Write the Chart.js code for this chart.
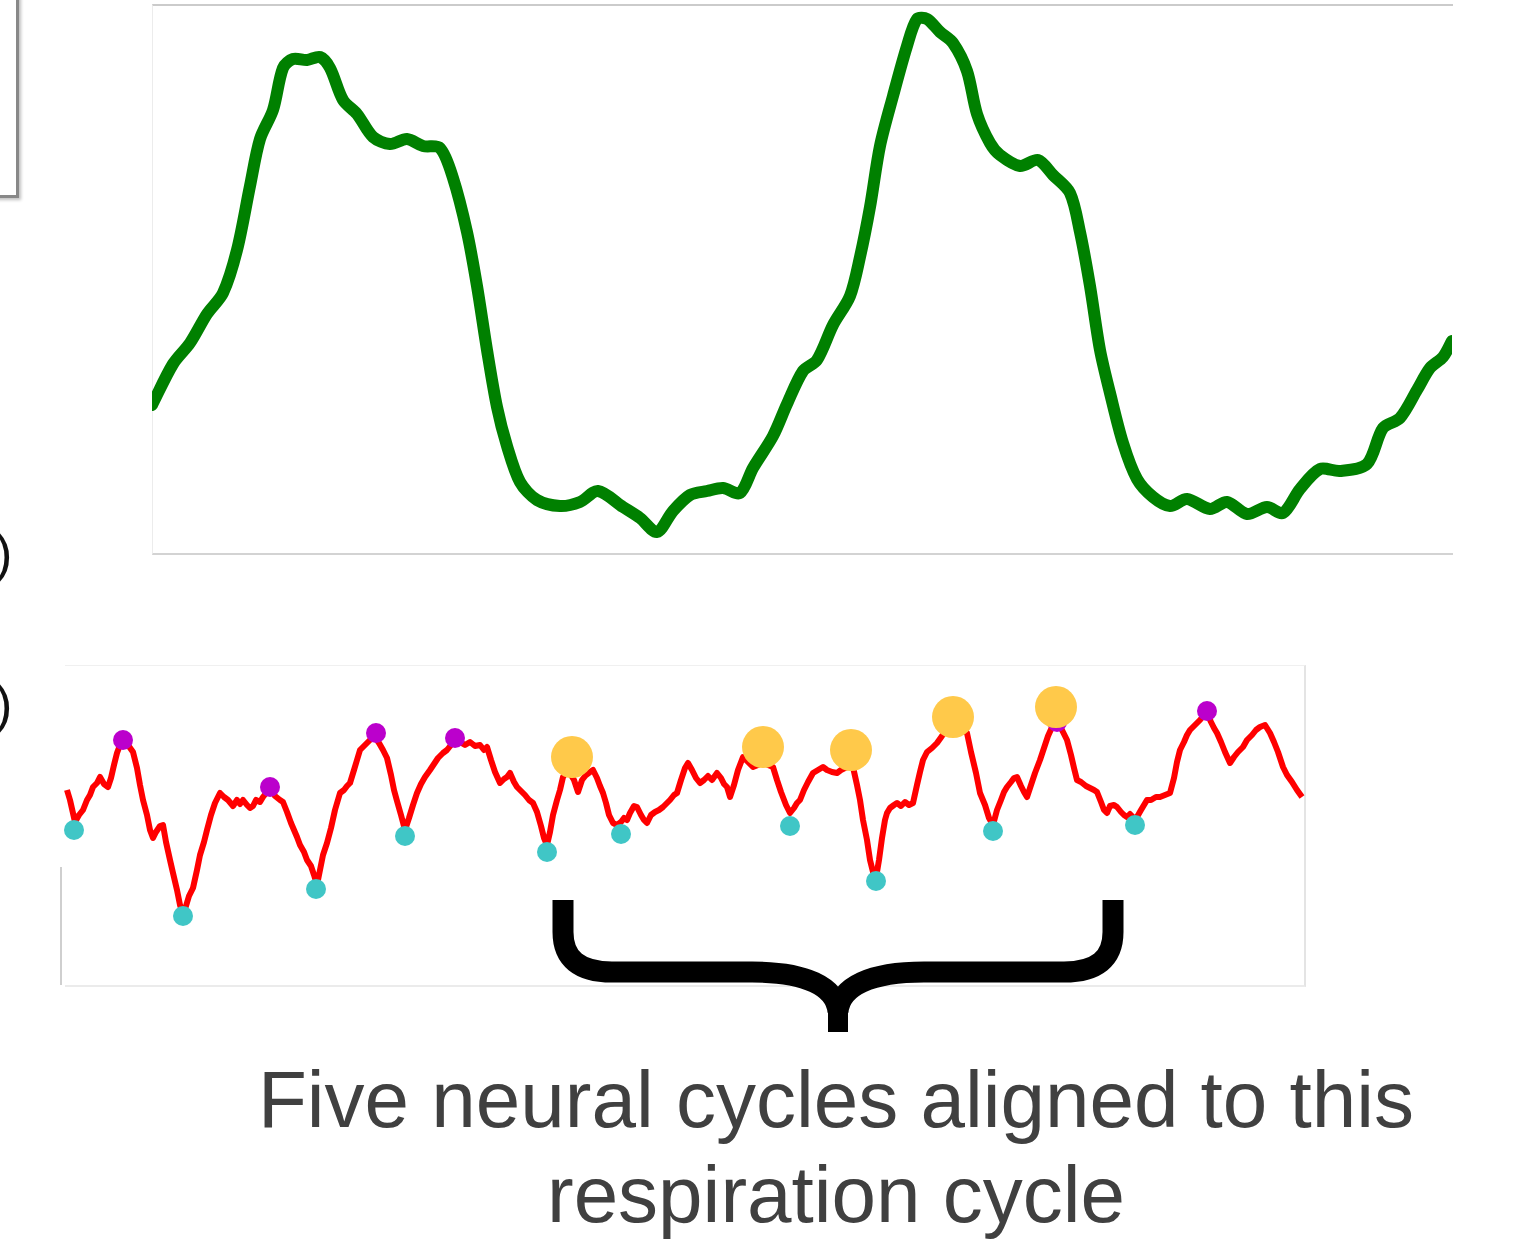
<!DOCTYPE html>
<html>
<head>
<meta charset="utf-8">
<script src="https://cdn.jsdelivr.net/npm/chart.js@4.4.1/dist/chart.umd.min.js"></script>
<style>
  html, body { margin: 0; padding: 0; background: #fff; }
  body { width: 1522px; height: 1251px; position: relative; overflow: hidden; font-family: "Liberation Sans", Arial, Helvetica, sans-serif; }
  .abs { position: absolute; }
  canvas { position: absolute; }
  .paren { position: absolute; font-size: 52px; line-height: 52px; color: #111; }
  .caption { position: absolute; left: 136px; width: 1400px; text-align: center; white-space: nowrap; font-size: 80px; line-height: 95px; color: #404040; }
</style>
</head>
<body>

<!-- bits of neighbouring panels cut off by the crop -->
<div class="abs" style="left:-20px; top:-20px; width:33px; height:212px; border:3px solid #888; box-shadow:2px 2px 3px rgba(0,0,0,0.25);"></div>
<div class="paren" style="left:-5px; top:527px;">)</div>
<div class="paren" style="left:-5px; top:678px;">)</div>

<!-- frames -->
<div class="abs" style="left:152px; top:4px; width:1300px; height:547px; border-top:2px solid #cbcbcb; border-bottom:2px solid #d3d3d3; border-left:1px solid #ececec;"></div>
<div class="abs" style="left:65px; top:665px; width:1239px; height:319px; border-top:1px solid #f0f0f0; border-right:2px solid #e4e4e4; border-bottom:2px solid #ebebeb;"></div>
<div class="abs" style="left:60px; top:867px; width:0; height:118px; border-left:2px solid #cfcfcf;"></div>

<canvas id="respChart" width="1300" height="547" style="left:152px; top:5px;"></canvas>
<canvas id="lfpChart" width="1245" height="320" style="left:60px; top:665px;"></canvas>

<!-- brace -->
<svg class="abs" style="left:0; top:0;" width="1522" height="1251">
  <path d="M563 900 L563 932 Q563 972 612 972 L752 972 C805 972 836 986 838 1012 M1113 900 L1113 932 Q1113 972 1064 972 L924 972 C871 972 840 986 838 1012"
        fill="none" stroke="#000" stroke-width="21"/>
  <rect x="828" y="1004" width="20" height="28" fill="#000"/>
</svg>

<div class="caption" style="top:1052px;">Five neural cycles aligned to this</div>
<div class="caption" style="top:1147px;">respiration cycle</div>

<script>
// respiration trace (top), time in samples, amplitude in a.u.
const respT = [0, 21, 38, 55, 71, 85, 98, 108, 121, 131, 141, 155, 168, 178, 191, 205, 221, 238, 255, 271, 288,
  301, 315, 325, 335, 345, 355, 368, 385, 408, 428, 446, 471, 488, 505, 521, 538, 555, 571, 588,
  601, 621, 635, 651, 665, 681, 698, 708, 718, 728, 741, 755, 765, 775, 788, 801, 815, 825, 838, 848,
  868, 886, 901, 918, 928, 938, 948, 958, 971, 985, 1001, 1018, 1035, 1058, 1075, 1095, 1115, 1131,
  1148, 1168, 1188, 1215, 1231, 1248, 1265, 1278, 1291, 1300];
const respV = [147, 188, 209, 238, 259, 302, 366, 413, 442, 484, 493, 492, 495, 484, 452, 438, 415, 408, 413, 406, 404,
  374, 320, 266, 202, 145, 106, 70, 52, 46, 50, 61, 45, 34, 20, 41, 57, 61, 64, 59,
  84, 116, 148, 181, 192, 227, 256, 295, 345, 406, 456, 506, 533, 533, 520, 509, 481, 438, 409, 397,
  386, 392, 377, 359, 320, 266, 202, 159, 109, 73, 55, 46, 53, 43, 50, 38, 45, 39,
  63, 83, 81, 88, 124, 134, 162, 184, 195, 211];

// neural trace (bottom)
const lfpT = [7, 10, 15, 19, 23, 27, 30, 33, 37, 40, 44, 48, 51, 54, 57, 60, 64, 68, 73, 77, 80, 83, 87, 90, 93, 96, 100,
  103, 106, 110, 113, 117, 120, 123, 126, 129, 133, 137, 140, 144, 147, 151, 155, 160, 164, 168, 173, 177, 180, 183,
  187, 190, 193, 196, 200, 203, 207, 210, 215, 220, 223, 227, 231, 237, 240, 244, 247, 251, 254, 257, 260, 263, 267,
  271, 275, 280, 284, 287, 290, 294, 297, 300, 305, 310, 315, 319, 323, 327, 331, 334, 337, 341, 345, 349, 353, 357,
  361, 365, 370, 374, 378, 383, 387, 391, 395, 400, 405, 410, 415, 420, 424, 427, 431, 435, 440, 444, 447, 450, 454,
  457, 460, 465, 469, 473, 477, 481, 484, 487, 490, 493, 497, 500, 503, 508, 514, 518, 522, 526, 530, 533, 537, 540,
  543, 546, 549, 553, 557, 561, 564, 567, 570, 574, 577, 581, 584, 587, 591, 595, 599, 603, 607, 610, 614, 617, 621,
  625, 628, 632, 636, 640, 644, 648, 652, 657, 661, 664, 667, 670, 674, 678, 683, 688, 693, 698, 703, 708, 713, 717,
  721, 726, 730, 734, 737, 740, 744, 748, 753, 758, 763, 767, 772, 777, 781, 785, 789, 793, 797, 800, 803, 807, 810,
  813, 816, 819, 822, 825, 827, 830, 834, 837, 841, 845, 849, 853, 857, 860, 863, 867, 872, 877, 882, 887, 893, 900,
  907, 911, 916, 920, 925, 929, 933, 937, 941, 944, 947, 951, 954, 957, 961, 964, 967, 971, 975, 980, 984, 988, 993,
  997, 1002, 1007, 1011, 1014, 1017, 1021, 1026, 1030, 1034, 1037, 1041, 1044, 1047, 1050, 1054, 1057, 1061, 1064,
  1067, 1070, 1074, 1077, 1081, 1084, 1087, 1091, 1096, 1100, 1105, 1110, 1114, 1117, 1120, 1124, 1127, 1130, 1135,
  1140, 1144, 1147, 1151, 1154, 1157, 1161, 1165, 1170, 1174, 1178, 1183, 1187, 1192, 1196, 1200, 1205, 1210, 1214,
  1218, 1223, 1227, 1232, 1237, 1242];
const lfpV = [195, 185, 163, 170, 175, 185, 190, 198, 202, 208, 201, 198, 207, 220, 232, 240, 245, 240, 233, 217, 200, 185, 170, 155, 147, 153, 159,
  160, 143, 125, 112, 95, 80, 71, 79, 89, 97, 115, 130, 143, 155, 170, 182, 192, 188, 185, 179, 185, 181, 185,
  180, 177, 179, 185, 183, 188, 193, 198, 189, 185, 183, 173, 162, 148, 140, 133, 125, 119, 110, 100, 115, 130, 142,
  157, 175, 192, 195, 199, 202, 215, 225, 235, 240, 245, 248, 242, 235, 227, 210, 195, 184, 170, 155, 167, 180, 192,
  201, 208, 215, 221, 227, 232, 235, 240, 245, 243, 240, 243, 239, 240, 235, 238, 225, 213, 202, 206, 208, 212, 203,
  198, 195, 190, 185, 182, 173, 159, 147, 140, 153, 170, 185, 195, 208, 215, 205, 193, 205, 210, 213, 215, 207, 199,
  192, 182, 170, 162, 160, 163, 167, 165, 172, 179, 178, 170, 165, 162, 170, 173, 175, 178, 182, 185, 190, 192, 205,
  217, 222, 215, 207, 202, 205, 209, 205, 212, 207, 201, 198, 188, 200, 215, 228, 223, 218, 220, 225, 220, 218, 205,
  193, 180, 172, 177, 182, 185, 195, 203, 212, 215, 218, 215, 213, 212, 215, 217, 219, 218, 200, 185, 165, 145, 125,
  113, 107, 125, 147, 165, 172, 177, 180, 182, 179, 183, 180, 182, 200, 213, 225, 233, 237, 242, 249, 257, 263, 257,
  252, 233, 212, 192, 180, 167, 160, 175, 185, 193, 198, 203, 207, 208, 199, 193, 188, 200, 212, 225, 237, 249, 260,
  263, 255, 245, 230, 217, 205, 203, 199, 197, 195, 193, 183, 175, 172, 179, 180, 178, 173, 170,
  168, 171, 167, 168, 175, 180, 185, 185, 188, 188, 190, 192, 207, 223, 235, 243, 250, 255, 260,
  265, 270, 272, 263, 257, 252, 243, 233, 222, 228, 233, 238, 245, 250, 255, 258, 260, 252, 243,
  233, 218, 210, 203, 195, 188];

// detected neural troughs, peaks, and the peaks aligned to the respiration cycle
const troughT = [14, 123, 256, 345, 487, 561, 730, 816, 933, 1075];
const troughV = [155, 69, 96, 149, 133, 151, 159, 104, 154, 160];
const peakT = [63, 210, 316, 395, 997, 1147];
const peakV = [245, 198, 252, 247, 263, 274];
const alignedT = [512, 703, 791, 893, 996];
const alignedV = [228, 238, 235, 268, 278];

const pts = (xs, ys) => xs.map((x, i) => ({ x: x, y: ys[i] }));

const hiddenScales = (xmax, ymax) => ({
    x: { type: 'linear', min: 0, max: xmax, display: false },
    y: { type: 'linear', min: 0, max: ymax, display: false }
});

const baseOptions = {
    responsive: false,
    animation: false,
    layout: { padding: 0, autoPadding: false },
    plugins: { legend: { display: false }, tooltip: { enabled: false } },
    events: []
};

new Chart(document.getElementById('respChart'), {
    type: 'line',
    data: {
        datasets: [{
            data: pts(respT, respV),
            borderColor: '#008000',
            borderWidth: 12,
            borderJoinStyle: 'round',
            borderCapStyle: 'round',
            pointRadius: 0,
            tension: 0.3,
            fill: false
        }]
    },
    options: { ...baseOptions, scales: hiddenScales(1300, 547) }
});

new Chart(document.getElementById('lfpChart'), {
    type: 'line',
    data: {
        datasets: [
            { data: pts(alignedT, alignedV), showLine: false, pointRadius: 21, pointBackgroundColor: '#ffc94a', pointBorderWidth: 0 },
            { data: pts(peakT, peakV), showLine: false, pointRadius: 10, pointBackgroundColor: '#bb00cc', pointBorderWidth: 0 },
            { data: pts(troughT, troughV), showLine: false, pointRadius: 10, pointBackgroundColor: '#40c6c6', pointBorderWidth: 0 },
            { data: pts(lfpT, lfpV), borderColor: '#ff0000', borderWidth: 6, borderJoinStyle: 'round', pointRadius: 0, tension: 0, fill: false }
        ]
    },
    options: { ...baseOptions, scales: hiddenScales(1245, 320) }
});
</script>
</body>
</html>
